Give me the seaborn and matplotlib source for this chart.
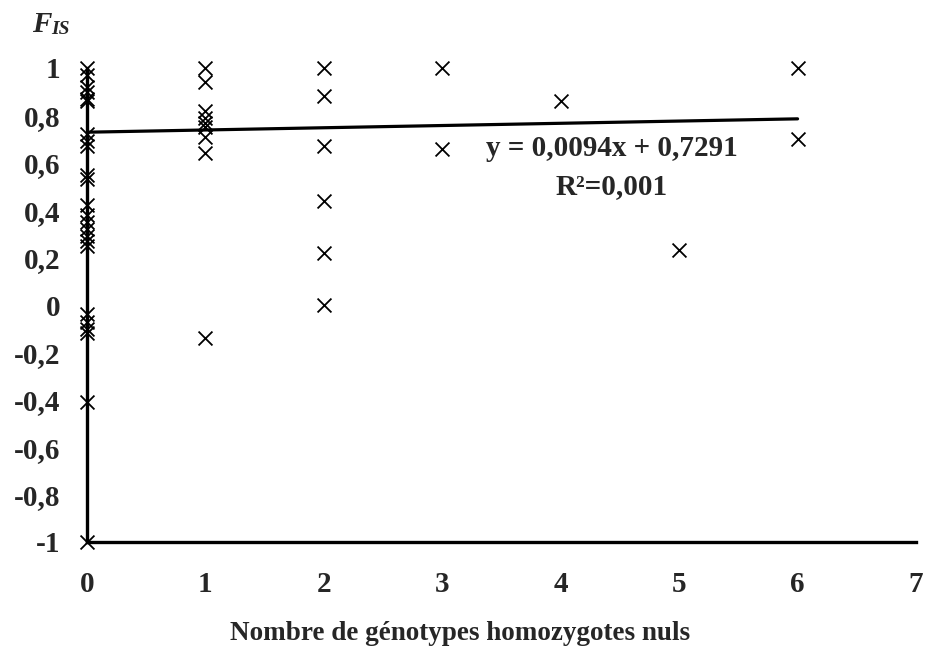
import matplotlib
matplotlib.use("Agg")
import matplotlib.pyplot as plt
import numpy as np
import pandas as pd
import seaborn as sns

# F_IS values per locus, grouped by number of null homozygous genotypes
fis_0 = [1.0, 0.97, 0.92, 0.90, 0.87, 0.86, 0.72, 0.69, 0.67, 0.55, 0.53,
         0.42, 0.38, 0.35, 0.32, 0.29, 0.27, 0.25, -0.04, -0.07, -0.10,
         -0.12, -0.41, -1.0]
fis_1 = [1.0, 0.94, 0.82, 0.79, 0.77, 0.75, 0.71, 0.64, -0.14]
fis_2 = [1.0, 0.88, 0.67, 0.44, 0.22, 0.0]
fis_3 = [1.0, 0.66]
fis_4 = [0.86]
fis_5 = [0.23]
fis_6 = [1.0, 0.70]

# Linear trend as reported
slope = 0.0094
intercept = 0.7291
r2_text = "R²=0,001"
eq_text = "y = 0,0094x + 0,7291"

x_ticks = [0, 1, 2, 3, 4, 5, 6, 7]
y_ticks = [-1, -0.8, -0.6, -0.4, -0.2, 0, 0.2, 0.4, 0.6, 0.8, 1]

groups = [fis_0, fis_1, fis_2, fis_3, fis_4, fis_5, fis_6]
df = pd.DataFrame({
    "nuls": np.concatenate([[k] * len(g) for k, g in enumerate(groups)]),
    "fis": np.concatenate(groups),
})

sns.set_theme(style="white")
plt.rcParams["font.family"] = ["Liberation Serif", "DejaVu Serif"]
plt.rcParams["font.weight"] = "bold"

fig = plt.figure(figsize=(9.27, 6.59), dpi=100)
ax = fig.add_axes([87 / 927, 1 - 542 / 659, (916 - 87) / 927, (542 - 68) / 659])

sns.scatterplot(data=df, x="nuls", y="fis", marker="x", s=100,
                color="black", linewidth=1.3, ax=ax, zorder=3, clip_on=False)

line_x = np.array([0, 6])
sns.lineplot(x=line_x, y=slope * line_x + intercept, color="black",
             linewidth=2.3, ax=ax, zorder=2)

ax.set_xlim(0, 7)
ax.set_ylim(-1, 1)
ax.set_xticks(x_ticks)
ax.set_xticklabels([str(t) for t in x_ticks])
ax.set_yticks(y_ticks)
ax.set_yticklabels([("%g" % t).replace(".", ",") for t in y_ticks])
ax.tick_params(axis="both", length=0, labelsize=21)
ax.tick_params(axis="y", pad=19)
ax.tick_params(axis="x", pad=21)
for lab in ax.get_xticklabels() + ax.get_yticklabels():
    lab.set_fontweight("bold")

for side in ["top", "right"]:
    ax.spines[side].set_visible(False)
for side in ["left", "bottom"]:
    ax.spines[side].set_linewidth(2.4)
    ax.spines[side].set_color("black")
ax.set_xlabel("")
ax.set_ylabel("")

ax.text(4.43, 0.662, eq_text, ha="center", va="center", fontsize=21,
        fontweight="bold")
ax.text(4.43, 0.498, r2_text, ha="center", va="center", fontsize=21,
        fontweight="bold")

# Axis titles
fig.text(460 / 927, 1 - 634 / 659, "Nombre de génotypes homozygotes nuls",
         ha="center", va="center", fontsize=19.5, fontweight="bold")
fig.text(32 / 927, 1 - 25 / 659, "F", ha="left", va="center", fontsize=21,
         fontweight="bold", fontstyle="italic")
fig.text(51 / 927, 1 - 30 / 659, "IS", ha="left", va="center", fontsize=14,
         fontweight="bold", fontstyle="italic")

fig.savefig("out.png", dpi=100, facecolor="white")
